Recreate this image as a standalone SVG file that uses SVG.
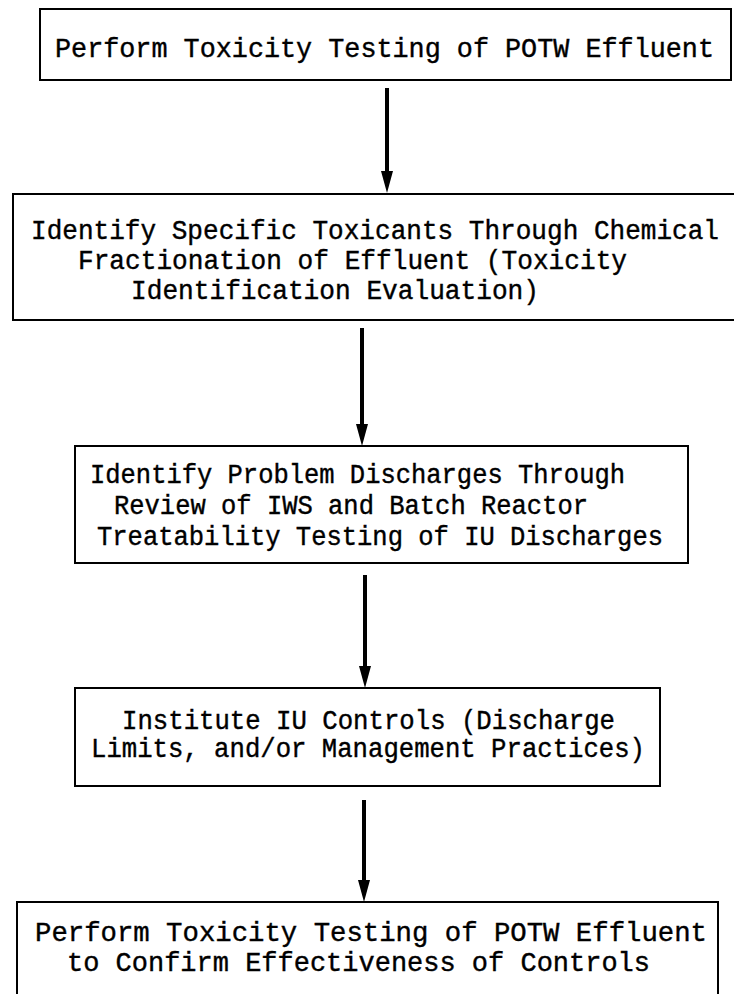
<svg xmlns="http://www.w3.org/2000/svg" width="734" height="994" viewBox="0 0 734 994">
<defs>
<style>
.box{fill:#fff;stroke:#000;stroke-width:2}
.t{font-family:"Liberation Mono","DejaVu Sans Mono",monospace;font-size:27px;fill:#000;stroke:#000;stroke-width:0.4}
.c{stroke:#000;stroke-width:4;fill:none}
.h{fill:#000}
</style>
</defs>
<rect width="734" height="994" fill="#fff"/>
<g id="connectors">
<line class="c" x1="387" y1="88" x2="387" y2="172"/>
<path class="h" d="M381,171 L393,171 L387,193 Z"/>
<line class="c" x1="362" y1="328" x2="362" y2="425"/>
<path class="h" d="M356,424 L368,424 L362,446 Z"/>
<line class="c" x1="365" y1="575" x2="365" y2="667"/>
<path class="h" d="M359,666 L371,666 L365,688 Z"/>
<line class="c" x1="364" y1="800" x2="364" y2="881"/>
<path class="h" d="M358,880 L370,880 L364,902 Z"/>
</g>
<g id="n1">
<rect class="box" x="40" y="9" width="691" height="71"/>
<text class="t" x="55" y="57" textLength="659" lengthAdjust="spacingAndGlyphs">Perform Toxicity Testing of POTW Effluent</text>
</g>
<g id="n2">
<rect class="box" x="13" y="194" width="730" height="126"/>
<text class="t" x="31" y="239" textLength="688" lengthAdjust="spacingAndGlyphs">Identify Specific Toxicants Through Chemical</text>
<text class="t" x="78" y="269" textLength="549" lengthAdjust="spacingAndGlyphs">Fractionation of Effluent (Toxicity</text>
<text class="t" x="131" y="299" textLength="408" lengthAdjust="spacingAndGlyphs">Identification Evaluation)</text>
</g>
<g id="n3">
<rect class="box" x="75" y="446" width="613" height="117"/>
<text class="t" x="90" y="483" textLength="535" lengthAdjust="spacingAndGlyphs">Identify Problem Discharges Through</text>
<text class="t" x="114" y="514" textLength="474" lengthAdjust="spacingAndGlyphs">Review of IWS and Batch Reactor</text>
<text class="t" x="97" y="545" textLength="566" lengthAdjust="spacingAndGlyphs">Treatability Testing of IU Discharges</text>
</g>
<g id="n4">
<rect class="box" x="75" y="688" width="585" height="98"/>
<text class="t" x="122" y="729" textLength="493" lengthAdjust="spacingAndGlyphs">Institute IU Controls (Discharge</text>
<text class="t" x="91" y="757" textLength="554" lengthAdjust="spacingAndGlyphs">Limits, and/or Management Practices)</text>
</g>
<g id="n5">
<rect class="box" x="17" y="902" width="701" height="100"/>
<text class="t" x="35" y="941" textLength="672" lengthAdjust="spacingAndGlyphs">Perform Toxicity Testing of POTW Effluent</text>
<text class="t" x="67" y="971" textLength="583" lengthAdjust="spacingAndGlyphs">to Confirm Effectiveness of Controls</text>
</g>
</svg>
